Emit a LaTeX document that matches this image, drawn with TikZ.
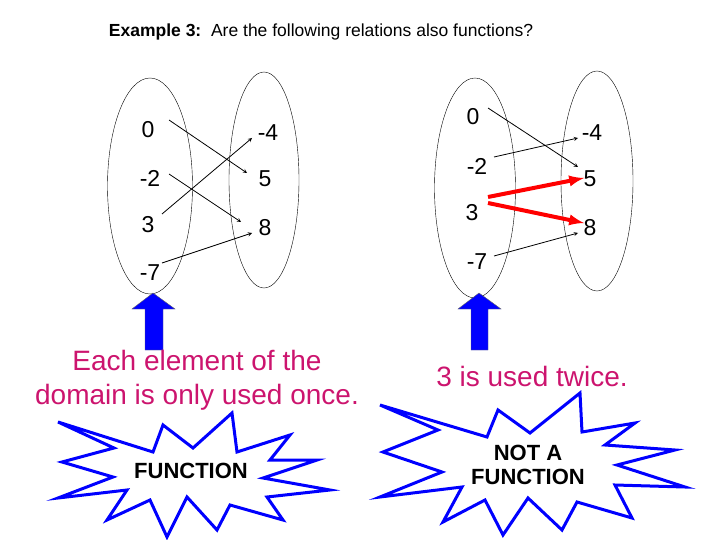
\documentclass[tikz,border=0pt]{standalone}
\usepackage{fontspec}
\setmainfont{Liberation Sans}
\usetikzlibrary{shapes.geometric}
\definecolor{pinktext}{RGB}{204,20,110}
\tikzset{
	num/.style={font=\fontsize{23}{23}\selectfont},
	set/.style={draw, ellipse, thin},
	map/.style={-stealth, thick},
	redmap/.style={-latex, red, line width=4pt},
	burst/.style={draw=blue, line width=3pt, fill=white, line join=miter},
	upper/.style={fill=blue, draw=black!60, thin}
}
\begin{document}
\begin{tikzpicture}[x=1pt, y=-1pt]
	\useasboundingbox (0,0) rectangle (720,540);

	\node (title) at (321,32) {\fontsize{17.5}{17.5}\selectfont\textbf{Example 3:}\ \ Are the following relations also functions?};

	% left relation
	\node[set, minimum width=85pt, minimum height=216pt] (domA) at (150,186) {};
	\node[set, minimum width=70pt, minimum height=216pt] (ranA) at (264,180) {};
	\node[num] (a0) at (148,130) {0};
	\node[num] (a-2) at (150,178) {-2};
	\node[num] (a3) at (148,225) {3};
	\node[num] (a-7) at (150,273) {-7};
	\node[num] (b-4) at (268,133) {-4};
	\node[num] (b5) at (265,179) {5};
	\node[num] (b8) at (265,228) {8};
	\coordinate (s0) at (169,120);  \coordinate (t5) at (247,173);
	\coordinate (s-2) at (169,174); \coordinate (t8) at (241,222);
	\coordinate (s3) at (162,214);  \coordinate (t-4) at (252,138);
	\coordinate (s-7) at (162,263); \coordinate (t8b) at (252,233);
	\draw[map] (s0) -- (t5);
	\draw[map] (s-2) -- (t8);
	\draw[map] (s3) -- (t-4);
	\draw[map] (s-7) -- (t8b);

	% right relation
	\node[set, minimum width=81pt, minimum height=220pt] (domB) at (475,188) {};
	\node[set, minimum width=72pt, minimum height=220pt] (ranB) at (597,181) {};
	\node[num] (c0) at (473,117) {0};
	\node[num] (c-2) at (477,166) {-2};
	\node[num] (c3) at (472,213) {3};
	\node[num] (c-7) at (477,262) {-7};
	\node[num] (d-4) at (592,133) {-4};
	\node[num] (d5) at (590,179) {5};
	\node[num] (d8) at (590,228) {8};
	\coordinate (u0) at (488,108);  \coordinate (v5) at (578,167);
	\coordinate (u-2) at (494,157); \coordinate (v-4) at (578,138);
	\coordinate (u3a) at (488,197); \coordinate (v5b) at (584,178);
	\coordinate (u3b) at (488,203); \coordinate (v8) at (584,223);
	\coordinate (u-7) at (494,256); \coordinate (v8b) at (578,233);
	\draw[map] (u0) -- (v5);
	\draw[map] (u-2) -- (v-4);
	\draw[redmap] (u3a) -- (v5b);
	\draw[redmap] (u3b) -- (v8);
	\draw[map] (u-7) -- (v8b);

	% blue pointers
	\draw[upper] (132,309) -- (153,293) -- (175,309) -- (163,309) -- (163,350) -- (145,350) -- (145,309) -- cycle;
	\draw[upper] (458,309) -- (479,293) -- (501,309) -- (488,309) -- (488,350) -- (471,350) -- (471,309) -- cycle;

	\node[pinktext, align=center, font=\fontsize{28}{34}\selectfont] (once) at (197,380) {Each element of the\\domain is only used once.};
	\node[pinktext, font=\fontsize{28}{28}\selectfont] (twice) at (532,376) {3 is used twice.};

	% starbursts
	\draw[burst] (58,422) -- (153,452) -- (163,425) -- (193,448) -- (232,413) -- (237,452) -- (290,435)
		-- (270,460) -- (317,460) -- (263,478) -- (330,490) -- (267,497) -- (283,520) -- (230,505)
		-- (217,530) -- (187,497) -- (167,537) -- (150,500) -- (107,520) -- (127,490) -- (58,498)
		-- (113,477) -- (62,462) -- (114,448) -- cycle;
	\node[font=\fontsize{22}{22}\selectfont\bfseries] (fn) at (191,471) {FUNCTION};

	\draw[burst] (380,405) -- (487,437) -- (498,410) -- (530,433) -- (580,393) -- (582,432) -- (635,423)
		-- (605,445) -- (675,450) -- (617,465) -- (685,487) -- (615,485) -- (632,518) -- (577,502)
		-- (562,530) -- (528,498) -- (503,535) -- (485,500) -- (443,522) -- (462,487) -- (380,497)
		-- (442,472) -- (383,452) -- (438,430) -- cycle;
	\node[font=\fontsize{22}{24}\selectfont\bfseries, align=center] (notfn) at (528,465) {NOT A\\FUNCTION};
\end{tikzpicture}
\end{document}
